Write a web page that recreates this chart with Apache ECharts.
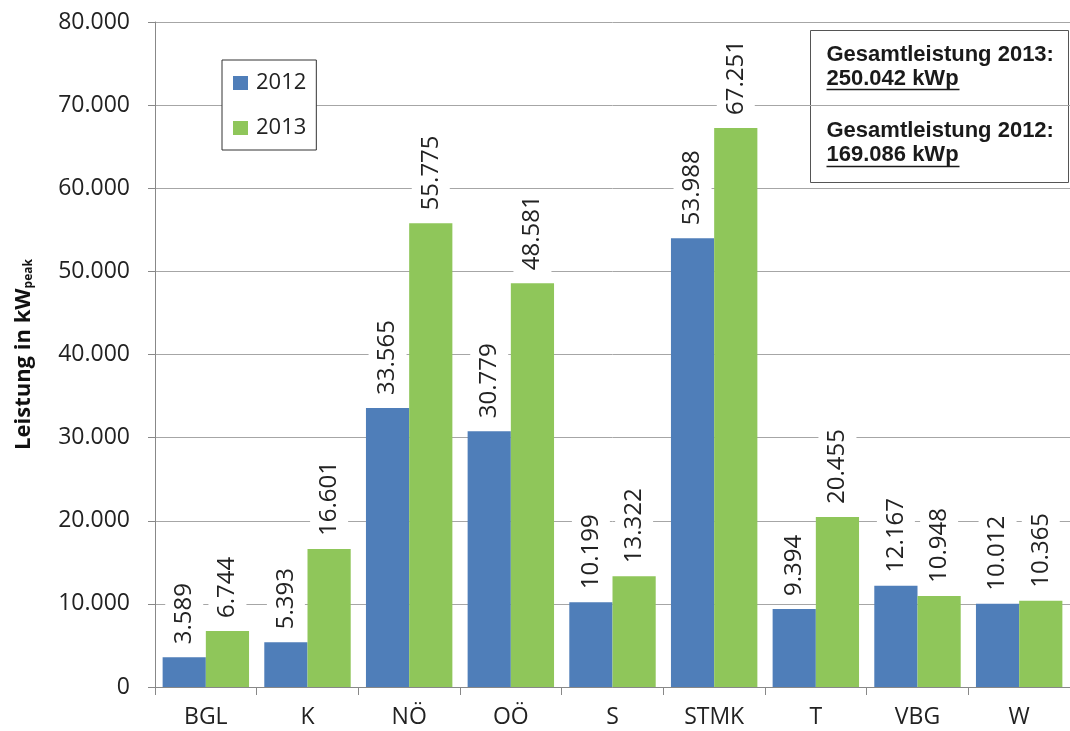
<!DOCTYPE html>
<html>
<head>
<meta charset="utf-8">
<script src="https://cdn.jsdelivr.net/npm/echarts@6/dist/echarts.min.js"></script>
<style>html,body{margin:0;padding:0;background:#fff}#c{width:1070px;height:731px}</style>
</head>
<body>
<div id="c"></div>
<script>
const categories = ['BGL', 'K', 'NÖ', 'OÖ', 'S', 'STMK', 'T', 'VBG', 'W'];
const values2012 = [3589, 5393, 33565, 30779, 10199, 53988, 9394, 12167, 10012];
const values2013 = [6744, 16601, 55775, 48581, 13322, 67251, 20455, 10948, 10365];
const seriesNames = ['2012', '2013'];
const summaryLines = ['Gesamtleistung 2013:', '250.042 kWp', 'Gesamtleistung 2012:', '169.086 kWp'];

function deFmt(v) {
  const s = Math.round(v).toString();
  return s.replace(/\B(?=(\d{3})+(?!\d))/g, '.');
}

const chart = echarts.init(document.getElementById('c'));
const FONT = '"Open Sans", sans-serif';
const BOLD = 'bold 22px "Liberation Sans", Arial, sans-serif';
const labelCfg = {
  show: true,
  position: 'top',
  rotate: 90,
  align: 'left',
  verticalAlign: 'middle',
  distance: 11,
  fontFamily: FONT,
  fontSize: 24,
  lineHeight: 26,
  color: '#222',
  backgroundColor: '#fff',
  padding: [6, 2],
  formatter: p => deFmt(p.value)
};

chart.setOption({
  animation: false,
  backgroundColor: '#fff',
  grid: { left: 155, top: 22, width: 922, height: 665, containLabel: false },
  legend: {
    orient: 'vertical',
    left: 222, top: 60,
    padding: [11, 10, 10, 11],
    itemGap: 21,
    itemWidth: 15, itemHeight: 14,
    backgroundColor: '#fff',
    borderColor: '#333', borderWidth: 1,
    borderRadius: 0,
    icon: 'rect',
    textStyle: { fontFamily: FONT, fontSize: 22, lineHeight: 24, color: '#222', padding: [0, 0, 0, 3] },
    data: seriesNames
  },
  xAxis: {
    type: 'category',
    data: categories,
    axisLine: { lineStyle: { color: '#888', width: 1 } },
    axisTick: { show: true, length: 8, lineStyle: { color: '#888' } },
    axisLabel: { fontFamily: FONT, fontSize: 23, color: '#222', margin: 19 }
  },
  yAxis: {
    type: 'value',
    min: 0, max: 80000, interval: 10000,
    name: '{a|Leistung in kW}{s|peak}',
    nameLocation: 'middle',
    nameRotate: 90,
    nameGap: 120,
    nameTextStyle: {
      rich: {
        a: { fontFamily: FONT, fontWeight: 'bold', fontSize: 22, color: '#111' },
        s: { fontFamily: FONT, fontWeight: 'bold', fontSize: 12, color: '#111', padding: [11, 0, 0, 0] }
      }
    },
    axisLine: { show: true, lineStyle: { color: '#888' } },
    axisTick: { show: true, length: 7, lineStyle: { color: '#888' } },
    splitLine: { show: true, lineStyle: { color: '#a6a6a6', width: 1 } },
    axisLabel: { fontFamily: FONT, fontSize: 23, color: '#222', margin: 25, formatter: v => deFmt(v) }
  },
  series: [
    {
      name: seriesNames[0], type: 'bar', data: values2012,
      barGap: '0%', barCategoryGap: '15%',
      itemStyle: { color: '#4F7EB9' },
      label: labelCfg
    },
    {
      name: seriesNames[1], type: 'bar', data: values2013,
      barGap: '0%', barCategoryGap: '15%',
      itemStyle: { color: '#8FC65A' },
      label: labelCfg
    }
  ],
  graphic: [
    {
      type: 'group', left: 810, top: 30,
      children: [
        { type: 'rect', shape: { x: 0, y: 0, width: 258, height: 152 }, style: { fill: '#fff', stroke: '#555', lineWidth: 1 } },
        { type: 'text', x: 16, y: 24, style: { text: summaryLines[0], font: BOLD, fill: '#1a1a1a', verticalAlign: 'middle' } },
        { type: 'text', x: 16, y: 48, style: { text: summaryLines[1], font: BOLD, fill: '#1a1a1a', verticalAlign: 'middle' } },
        { type: 'line', shape: { x1: 16, y1: 59, x2: 149, y2: 59 }, style: { stroke: '#1a1a1a', lineWidth: 1.5 } },
        { type: 'text', x: 16, y: 100, style: { text: summaryLines[2], font: BOLD, fill: '#1a1a1a', verticalAlign: 'middle' } },
        { type: 'text', x: 16, y: 124, style: { text: summaryLines[3], font: BOLD, fill: '#1a1a1a', verticalAlign: 'middle' } },
        { type: 'line', shape: { x1: 16, y1: 136, x2: 149, y2: 136 }, style: { stroke: '#1a1a1a', lineWidth: 1.5 } }
      ]
    }
  ]
});
</script>
</body>
</html>
